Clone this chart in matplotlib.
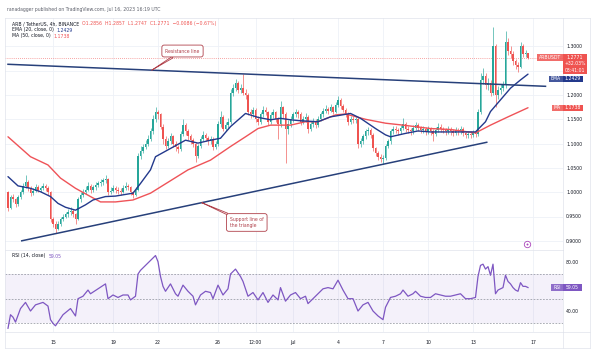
import matplotlib
matplotlib.use("Agg")
import matplotlib.pyplot as plt
import numpy as np
import pandas as pd
from matplotlib.patches import Rectangle
from matplotlib.lines import Line2D

# ---------------- data (4h candles from 2023-06-12 00:00 UTC) ----------------
start_time = "2023-06-12 00:00"
first_open = 1.000
closes = [
    0.968, 0.990, 0.985, 0.975, 0.990, 1.000,
    1.012, 1.020, 1.008, 0.998, 1.003, 1.010,
    1.005, 1.008, 1.012, 1.008, 1.000, 0.945,
    0.935, 0.925, 0.935, 0.945, 0.950, 0.955,
    0.960, 0.962, 0.955, 0.945, 0.985, 0.995,
    1.000, 1.005, 1.012, 1.005, 1.010, 1.015,
    1.018, 1.020, 1.025, 1.028, 1.000, 1.003,
    1.008, 1.004, 1.002, 1.000, 1.008, 1.012,
    1.010, 1.000, 0.995, 1.005, 1.075, 1.085,
    1.092, 1.100, 1.110, 1.125, 1.150, 1.165,
    1.160, 1.135, 1.110, 1.095, 1.105, 1.115,
    1.100, 1.092, 1.088, 1.120, 1.138, 1.125,
    1.115, 1.108, 1.100, 1.075, 1.095, 1.110,
    1.118, 1.112, 1.105, 1.110, 1.092, 1.100,
    1.140, 1.155, 1.130, 1.138, 1.145, 1.205,
    1.215, 1.225, 1.210, 1.215, 1.205, 1.200,
    1.165, 1.160, 1.170, 1.150, 1.145, 1.160,
    1.170, 1.165, 1.145, 1.158, 1.165, 1.150,
    1.140, 1.175, 1.160, 1.130, 1.140, 1.150,
    1.160, 1.165, 1.160, 1.145, 1.150, 1.155,
    1.130, 1.140, 1.145, 1.138, 1.150, 1.160,
    1.168, 1.172, 1.168, 1.175, 1.165, 1.180,
    1.190, 1.178, 1.170, 1.160, 1.145, 1.150,
    1.148, 1.150, 1.100, 1.105, 1.115, 1.125,
    1.128, 1.118, 1.090, 1.080, 1.072, 1.068,
    1.070, 1.095, 1.105, 1.125, 1.130, 1.128,
    1.125, 1.132, 1.140, 1.130, 1.128, 1.125,
    1.132, 1.138, 1.132, 1.128, 1.130, 1.125,
    1.130, 1.125, 1.120, 1.128, 1.135, 1.130,
    1.128, 1.125, 1.130, 1.125, 1.122, 1.128,
    1.125, 1.130, 1.122, 1.118, 1.120, 1.118,
    1.122, 1.120, 1.165, 1.230, 1.240, 1.220,
    1.225, 1.205, 1.300, 1.200, 1.210, 1.215,
    1.220, 1.310, 1.290, 1.285, 1.270, 1.262,
    1.258, 1.300, 1.285, 1.2856, 1.2771,
]
highs = [
    1.003, 0.994, 0.996, 0.988, 0.994, 1.005,
    1.018, 1.035, 1.025, 1.012, 1.008, 1.016,
    1.014, 1.012, 1.018, 1.016, 1.012, 1.003,
    0.950, 0.940, 0.940, 0.950, 0.956, 0.960,
    0.966, 0.970, 0.966, 0.958, 0.990, 1.000,
    1.006, 1.012, 1.020, 1.016, 1.015, 1.020,
    1.024, 1.028, 1.030, 1.035, 1.030, 1.010,
    1.014, 1.012, 1.010, 1.008, 1.014, 1.020,
    1.016, 1.012, 1.003, 1.010, 1.080, 1.095,
    1.100, 1.108, 1.118, 1.132, 1.158, 1.175,
    1.170, 1.162, 1.140, 1.115, 1.112, 1.122,
    1.118, 1.105, 1.098, 1.126, 1.150, 1.142,
    1.130, 1.120, 1.112, 1.104, 1.100, 1.116,
    1.125, 1.122, 1.116, 1.116, 1.114, 1.106,
    1.146, 1.168, 1.158, 1.145, 1.152, 1.212,
    1.222, 1.232, 1.228, 1.222, 1.244, 1.212,
    1.204, 1.172, 1.176, 1.174, 1.156, 1.166,
    1.178, 1.176, 1.168, 1.164, 1.172, 1.168,
    1.155, 1.188, 1.178, 1.165, 1.148, 1.156,
    1.166, 1.172, 1.170, 1.164, 1.156, 1.162,
    1.158, 1.146, 1.152, 1.150, 1.156, 1.166,
    1.174, 1.180, 1.176, 1.182, 1.178, 1.186,
    1.198, 1.194, 1.182, 1.174, 1.164, 1.156,
    1.156, 1.156, 1.154, 1.112, 1.120, 1.130,
    1.134, 1.132, 1.122, 1.094, 1.084, 1.078,
    1.076, 1.100, 1.110, 1.130, 1.136, 1.136,
    1.132, 1.138, 1.152, 1.144, 1.136, 1.132,
    1.138, 1.144, 1.142, 1.136, 1.136, 1.134,
    1.136, 1.134, 1.130, 1.134, 1.142, 1.140,
    1.134, 1.132, 1.136, 1.134, 1.130, 1.134,
    1.132, 1.136, 1.134, 1.126, 1.126, 1.125,
    1.128, 1.128, 1.172, 1.245, 1.255, 1.246,
    1.234, 1.230, 1.340, 1.305, 1.218, 1.222,
    1.228, 1.332, 1.318, 1.300, 1.290, 1.275,
    1.268, 1.310, 1.304, 1.292, 1.2857,
]
lows = [
    0.962, 0.965, 0.980, 0.970, 0.972, 0.986,
    0.996, 1.008, 1.003, 0.992, 0.994, 1.000,
    1.000, 1.001, 1.004, 1.003, 0.995, 0.938,
    0.928, 0.916, 0.922, 0.930, 0.940, 0.946,
    0.950, 0.954, 0.950, 0.935, 0.942, 0.980,
    0.990, 0.996, 1.002, 0.998, 1.000, 1.005,
    1.010, 1.012, 1.015, 1.018, 0.995, 0.996,
    1.000, 0.998, 0.996, 0.994, 0.998, 1.004,
    1.004, 0.994, 0.988, 0.992, 1.002, 1.068,
    1.080, 1.088, 1.096, 1.105, 1.120, 1.145,
    1.150, 1.130, 1.100, 1.088, 1.090, 1.100,
    1.094, 1.085, 1.080, 1.085, 1.115, 1.118,
    1.108, 1.100, 1.094, 1.062, 1.070, 1.090,
    1.105, 1.106, 1.098, 1.100, 1.086, 1.088,
    1.096, 1.135, 1.125, 1.126, 1.132, 1.140,
    1.198, 1.208, 1.204, 1.205, 1.200, 1.192,
    1.158, 1.152, 1.155, 1.144, 1.138, 1.140,
    1.155, 1.158, 1.138, 1.140, 1.152, 1.144,
    1.110, 1.135, 1.152, 1.060, 1.120, 1.135,
    1.145, 1.155, 1.152, 1.138, 1.140, 1.145,
    1.122, 1.126, 1.135, 1.132, 1.134, 1.146,
    1.155, 1.162, 1.160, 1.164, 1.160, 1.162,
    1.176, 1.172, 1.164, 1.154, 1.138, 1.140,
    1.142, 1.142, 1.090, 1.094, 1.100, 1.110,
    1.118, 1.112, 1.084, 1.074, 1.066, 1.062,
    1.058, 1.066, 1.090, 1.100, 1.120, 1.122,
    1.118, 1.120, 1.128, 1.124, 1.122, 1.118,
    1.120, 1.128, 1.126, 1.122, 1.122, 1.118,
    1.120, 1.118, 1.105, 1.116, 1.124, 1.124,
    1.122, 1.118, 1.120, 1.118, 1.116, 1.118,
    1.118, 1.120, 1.116, 1.112, 1.112, 1.112,
    1.114, 1.114, 1.116, 1.160, 1.222, 1.212,
    1.210, 1.198, 1.200, 1.175, 1.192, 1.202,
    1.208, 1.215, 1.282, 1.276, 1.262, 1.254,
    1.248, 1.255, 1.278, 1.278, 1.2747,
]

# EMA(20) and MA(50) (candle index, value)
ema_t = [0, 4, 9, 13, 17, 20, 23, 27, 31, 34, 39, 43, 50, 53, 57, 59, 65, 71, 76, 81,
         85, 89, 95, 100, 105, 109, 113, 117, 124, 129, 137, 141, 147, 151, 153, 159,
         164, 169, 177, 187, 191, 193, 197, 201, 205, 208]
ema_v = [1.032, 1.013, 1.008, 1.001, 0.991, 0.977, 0.969, 0.963, 0.974, 0.984, 0.991,
         0.992, 0.998, 1.018, 1.046, 1.073, 1.090, 1.107, 1.101, 1.107, 1.111, 1.135,
         1.162, 1.154, 1.149, 1.152, 1.149, 1.147, 1.145, 1.155, 1.162, 1.152, 1.131,
         1.118, 1.114, 1.121, 1.126, 1.124, 1.124, 1.124, 1.145, 1.166, 1.190, 1.214,
         1.231, 1.2429]
ma_t = [0, 9, 16, 21, 27, 33, 37, 43, 50, 57, 72, 81, 89, 95, 100, 105, 113, 119, 124,
        131, 135, 143, 151, 158, 169, 177, 187, 193, 200, 208]
ma_v = [1.114, 1.073, 1.056, 1.029, 1.008, 0.991, 0.980, 0.980, 0.984, 0.998, 1.046,
        1.066, 1.094, 1.114, 1.131, 1.138, 1.138, 1.145, 1.145, 1.159, 1.161, 1.150,
        1.142, 1.138, 1.131, 1.129, 1.122, 1.138, 1.155, 1.1738]

# RSI(14) (candle index, value)
rsi_t = [0, 1, 2, 3, 5, 7, 9, 11, 14, 16, 17, 18, 19, 21, 22, 25, 26, 27, 28, 30, 32, 33,
         36, 39, 40, 42, 44, 46, 48, 49, 51, 52, 53, 55, 57, 59, 60, 61, 62, 63, 65, 67,
         68, 70, 72, 74, 75, 77, 79, 81, 82, 84, 86, 88, 89, 91, 93, 94, 96, 98, 100,
         102, 104, 106, 108, 109, 111, 113, 115, 117, 119, 120, 122, 124, 126, 128, 130,
         132, 134, 136, 138, 140, 142, 144, 146, 148, 150, 151, 153, 155, 157, 158, 160,
         162, 163, 165, 167, 169, 171, 173, 175, 177, 179, 181, 183, 185, 187, 188, 189,
         190, 191, 192, 193, 194, 195, 196, 197, 198, 199, 200, 201, 202, 203, 204, 205,
         206, 207, 208]
rsi_v = [26, 37, 35, 31, 42, 47, 40, 45, 47, 44, 33, 30, 28, 34, 37, 42, 39, 36, 50, 52,
         57, 54, 58, 62, 50, 53, 51, 53, 53, 49, 52, 70, 73, 77, 81, 85, 80, 68, 60, 56,
         62, 54, 52, 61, 56, 52, 45, 53, 56, 55, 50, 61, 53, 58, 70, 74, 68, 64, 52, 55,
         49, 55, 47, 53, 49, 59, 48, 53, 55, 50, 52, 46, 50, 54, 58, 59, 58, 65, 57, 50,
         50, 40, 45, 47, 40, 36, 33, 43, 51, 52, 54, 57, 52, 54, 56, 52, 51, 51, 54, 53,
         52, 52, 53, 54, 50, 50, 51, 68, 77, 78, 74, 76, 69, 78, 54, 57, 58, 59, 69, 64,
         62, 59, 57, 56, 63, 60, 60, 59.05]

# drawn trend lines (candle index, price)
res_t = [0, 215]
res_v = [1.2632, 1.2179]
sup_t = [5.5, 191.5]
sup_v = [0.900, 1.1027]

tick_times = ["2023-06-15", "2023-06-19", "2023-06-22", "2023-06-26", "2023-06-28 12:00",
              "2023-07-01", "2023-07-04", "2023-07-07", "2023-07-10", "2023-07-13",
              "2023-07-17"]
tick_labels = ["15", "19", "22", "26", "12:00", "Jul", "4", "7", "10", "13", "17"]
price_ticks = [0.90, 0.95, 1.00, 1.05, 1.10, 1.15, 1.20, 1.25, 1.30]
rsi_ticks = [40, 80]

last_price = 1.2771
ema_last = 1.2429
ma_last = 1.1738
rsi_last = 59.05
change_pct = "+32.03%"
countdown = "03:41:01"

# ---------------- styling ----------------
W, H = 600, 354
UP, DOWN = "#26a69a", "#ef5350"
EMA_C, MA_C, RSI_C = "#23398c", "#ef5358", "#7e57c2"
TREND_C = "#27407a"
NOTE_C = "#b0414b"
GRID_C = "#eef1f7"
FRAME_C = "#e0e3eb"
TXT_C = "#131722"
FS = 3.3

fig = plt.figure(figsize=(W / 100, H / 100), dpi=100)
fig.patch.set_facecolor("white")


def rect(l, t, r, b):
    return [l / W, 1 - b / H, (r - l) / W, (b - t) / H]


ax = fig.add_axes(rect(5, 18, 563, 250))
axr = fig.add_axes(rect(5, 250, 563, 332), sharex=ax)

idx = np.arange(len(closes))
c = np.array(closes)
o = np.array([first_open] + closes[:-1])
hi = np.maximum(np.array(highs), np.maximum(o, c))
lo = np.minimum(np.array(lows), np.minimum(o, c))
cols = np.where(c >= o, UP, DOWN)

ax.vlines(idx, lo, hi, color=cols, lw=0.45, zorder=3)
ax.bar(idx, np.maximum(np.abs(c - o), 0.0008), bottom=np.minimum(o, c), width=0.62,
       color=cols, lw=0, zorder=3)

ax.plot(ma_t, ma_v, color=MA_C, lw=1.0, zorder=4, solid_capstyle="round")
ax.plot(ema_t, ema_v, color=EMA_C, lw=1.0, zorder=4, solid_capstyle="round")
ax.plot(res_t, res_v, color=TREND_C, lw=1.1, zorder=5)
ax.plot(sup_t, sup_v, color=TREND_C, lw=1.1, zorder=5)
ax.axhline(last_price, color=DOWN, lw=0.5, ls=(0, (1, 2)), zorder=2)

x_left, x_right = (5 - 8) / 2.5, (563 - 8) / 2.5
ax.set_xlim(x_left, x_right)
ax.set_ylim(1.2 - (250 - 95) / 486, 1.2 + (95 - 18) / 486)

t0 = pd.Timestamp(start_time)
tick_pos = [(pd.Timestamp(t) - t0) / pd.Timedelta("4h") for t in tick_times]

ax.yaxis.tick_right()
ax.set_yticks(price_ticks)
ax.set_yticklabels(["" if abs(v - 1.25) < 1e-9 else f"{v:.4f}" for v in price_ticks])
ax.set_xticks(tick_pos)
ax.tick_params(axis="x", length=0, labelbottom=False)
ax.tick_params(axis="y", length=0, pad=2.2, labelsize=FS, labelcolor=TXT_C)
ax.grid(True, color=GRID_C, lw=0.6)
ax.set_axisbelow(True)

# RSI panel
axr.axhspan(30, 70, color=RSI_C, alpha=0.08, lw=0)
for lvl in (70, 50, 30):
    axr.axhline(lvl, color="#8a8e99", lw=0.5, ls=(0, (2.5, 2)))
axr.plot(rsi_t, rsi_v, color=RSI_C, lw=0.9, zorder=4)
axr.set_ylim(80 - (332 - 261.7) / 1.233, 80 + (261.7 - 250) / 1.233)
axr.yaxis.tick_right()
axr.set_yticks(rsi_ticks)
axr.set_yticklabels([f"{v:.2f}" for v in rsi_ticks])
axr.set_xticks(tick_pos)
axr.set_xticklabels(tick_labels)
axr.tick_params(axis="x", length=0, pad=5.5, labelsize=FS, labelcolor=TXT_C)
axr.tick_params(axis="y", length=0, pad=2.2, labelsize=FS, labelcolor=TXT_C)
axr.grid(True, axis="x", color=GRID_C, lw=0.6)
axr.set_axisbelow(True)

for a in (ax, axr):
    for s in a.spines.values():
        s.set_color(FRAME_C)
        s.set_linewidth(0.5)


def fline(x0, y0, x1, y1):
    fig.add_artist(Line2D([x0 / W, x1 / W], [1 - y0 / H, 1 - y1 / H], color=FRAME_C,
                          lw=0.5, transform=fig.transFigure))


fline(563, 18, 590, 18)
fline(590, 18, 590, 348)
fline(5, 348, 590, 348)
fline(5, 332, 5, 348)
fline(563, 332, 563, 348)
fline(563, 332, 590, 332)

# header & legends
fig.text(7 / W, 1 - 10 / H, "ranadagger published on TradingView.com, Jul 16, 2023 16:19 UTC",
         fontsize=FS, color="#5d606b", va="center")


def legend_line(axis, y_px, left, right, rcolor):
    t = fig.text(12 / W, 1 - y_px / H, left, fontsize=FS, color=TXT_C, va="center", zorder=7)
    axis.annotate(right, xy=(1, 0.5), xycoords=t, xytext=(2.2, 0), textcoords="offset points",
                  va="center", ha="left", fontsize=FS, color=rcolor, annotation_clip=False,
                  zorder=7)


legend_line(ax, 24, "ARB / TetherUS, 4h, BINANCE",
            "O1.2856  H1.2857  L1.2747  C1.2771  \u22120.0086 (\u22120.67%)", DOWN)
legend_line(ax, 30, "EMA (20, close, 0)", f"{ema_last:.4f}", EMA_C)
legend_line(ax, 36, "MA (50, close, 0)", f"{ma_last:.4f}", MA_C)
legend_line(axr, 256, "RSI (14, close)", f"{rsi_last:.2f}", RSI_C)


# price-scale tags
def ypx(axis, val):
    return H - axis.transData.transform((0, val))[1]


def fbox(x0, y0, x1, y1, color, alpha=1.0):
    fig.patches.append(Rectangle((x0 / W, 1 - y1 / H), (x1 - x0) / W, (y1 - y0) / H,
                                 transform=fig.transFigure, facecolor=color,
                                 edgecolor="none", alpha=alpha, zorder=6))


def ftext(x, y, s, color="white", ha="center"):
    fig.text(x / W, 1 - y / H, s, fontsize=FS, color=color, ha=ha, va="center", zorder=7)


def tag(axis, val, name, lines, color, name_x0, val_x1, shift=0.0):
    yc = ypx(axis, val) + shift
    top = yc - 3.2
    bot = top + 6.4 * len(lines)
    fbox(name_x0, yc - 3.2, 563, yc + 3.2, color, 0.85)
    ftext((name_x0 + 563) / 2, yc, name)
    fbox(563, top, val_x1, bot, color)
    for k, s in enumerate(lines):
        ftext((563 + val_x1) / 2, yc + 6.3 * k, s)


tag(ax, last_price, "ARBUSDT", [f"{last_price:.4f}", change_pct, countdown], DOWN, 537, 587)
tag(ax, ema_last, "EMA", [f"{ema_last:.4f}"], EMA_C, 549, 583, shift=4.8)
tag(ax, ma_last, "MA", [f"{ma_last:.4f}"], DOWN, 552, 583)
tag(axr, rsi_last, "RSI", [f"{rsi_last:.2f}"], RSI_C, 551, 582)

# callouts
res_pt_t = 57.5
res_pt_v = np.interp(res_pt_t, res_t, res_v)
ax.annotate("Resistance line", xy=(res_pt_t, res_pt_v), xytext=(69.8, 1.2905),
            ha="center", va="center", fontsize=FS, color=NOTE_C, zorder=8,
            bbox=dict(boxstyle="round,pad=0.75,rounding_size=0.5", fc="white", ec=NOTE_C, lw=0.6),
            arrowprops=dict(arrowstyle="wedge,tail_width=0.35", fc="white", ec=NOTE_C, lw=0.6,
                            shrinkA=0, shrinkB=0))
sup_pt_t = 77.5
sup_pt_v = np.interp(sup_pt_t, sup_t, sup_v)
ax.annotate("Support line of\nthe triangle", xy=(sup_pt_t, sup_pt_v), xytext=(95.5, 0.9377),
            ha="center", va="center", fontsize=FS, color=NOTE_C, zorder=8, linespacing=1.2,
            multialignment="left",
            bbox=dict(boxstyle="round,pad=0.75,rounding_size=0.5", fc="white", ec=NOTE_C, lw=0.6),
            arrowprops=dict(arrowstyle="wedge,tail_width=0.35", fc="white", ec=NOTE_C, lw=0.6,
                            shrinkA=0, shrinkB=0))

# event marker
ax.plot([0.9355], [0.026], transform=ax.transAxes, marker="o", ms=4.6, mfc="white",
        mec="#ab47bc", mew=0.6, clip_on=False, zorder=8)
ax.plot([0.9355], [0.026], transform=ax.transAxes, marker="o", ms=1.4, mfc="#ab47bc",
        mec="none", clip_on=False, zorder=9)

fig.savefig("out.png", dpi=100, facecolor="white")
